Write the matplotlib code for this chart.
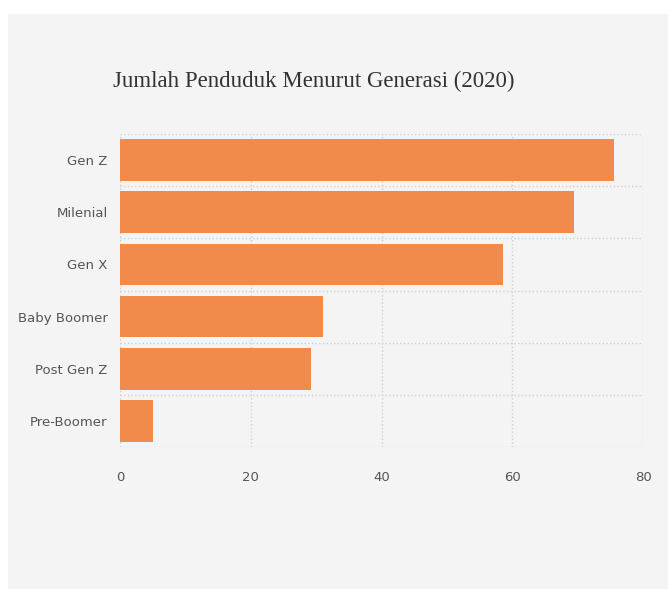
import matplotlib.pyplot as plt
from matplotlib.patches import Rectangle

generasi = ["Gen Z", "Milenial", "Gen X", "Baby Boomer", "Post Gen Z", "Pre-Boomer"]
jumlah = [75.49, 69.38, 58.65, 31.01, 29.17, 5.03]
xticks = [0, 20, 40, 60, 80]

fig = plt.figure(figsize=(6.68, 5.89), dpi=100, facecolor="white")
# panel abu-abu di belakang chart
fig.patches.append(Rectangle((8 / 668, 0), 1, 1 - 14 / 589, transform=fig.transFigure,
                             facecolor="#f4f4f4", edgecolor="none", zorder=-10))

ax = fig.add_axes([120 / 668, 1 - 447 / 589, 523 / 668, 313 / 589])
ax.set_facecolor("#f4f4f4")

pos = list(range(len(generasi)))
ax.barh(pos, jumlah, height=0.8, color="#f28a4b", zorder=3)

ax.set_ylim(len(generasi) - 0.5, -0.5)
ax.set_xlim(0, 80)
ax.set_xticks(xticks)
ax.set_yticks(pos)
ax.set_yticklabels(generasi)
ax.set_yticks([p - 0.5 for p in range(len(generasi) + 1)], minor=True)

ax.grid(axis="x", which="major", color="#d0d0d0", linestyle=":", linewidth=1)
ax.grid(axis="y", which="minor", color="#d0d0d0", linestyle=":", linewidth=1)
ax.tick_params(axis="both", which="both", length=0)
ax.tick_params(axis="x", pad=17, labelsize=9.5, labelcolor="#555555")
ax.tick_params(axis="y", pad=9, labelsize=9.5, labelcolor="#555555")

for s in ax.spines.values():
    s.set_visible(False)

fig.text(113 / 668, 1 - 87 / 589, "Jumlah Penduduk Menurut Generasi (2020)",
         fontsize=16.5, family="Liberation Serif",
         color="#333333", ha="left", va="baseline")

fig.savefig("out.png", dpi=100, facecolor=fig.get_facecolor())
